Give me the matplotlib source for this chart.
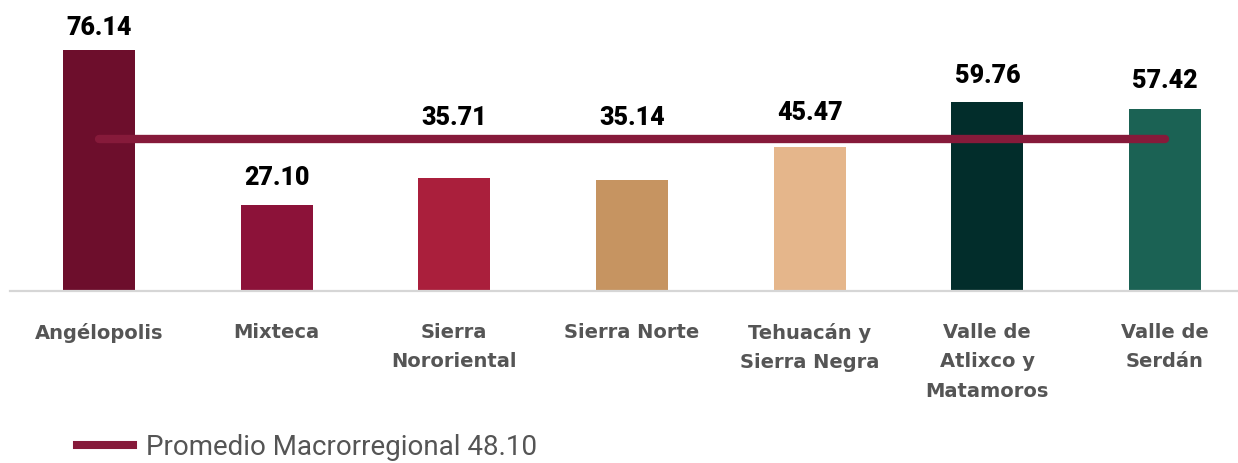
import matplotlib.pyplot as plt
from matplotlib.lines import Line2D

# Data
regiones = ["Angélopolis", "Mixteca", "Sierra\nNororiental", "Sierra Norte",
            "Tehuacán y\nSierra Negra", "Valle de\nAtlixco y\nMatamoros", "Valle de\nSerdán"]
valores = [76.14, 27.10, 35.71, 35.14, 45.47, 59.76, 57.42]
promedio = 48.10

# Style
colores = ["#6D0E2C", "#8C1239", "#AA1F3C", "#C69461", "#E5B68B", "#022D2B", "#1B6254"]
color_promedio = "#861A3A"
# label offset above each bar (points), as placed in the original
desfase_etiquetas = [10.8, 14.4, 38.2, 39.6, 19.4, 13.7, 15.1]

W, H = 1238, 463
paso = 177.7  # px per category
fig = plt.figure(figsize=(W / 100, H / 100), dpi=100)
ax = fig.add_axes([10 / W, (H - 291) / H, 7 * paso / W, 291 / H])

x = list(range(len(regiones)))
bars = ax.bar(x, valores, width=0.405, color=colores, zorder=2)

# Average line (round caps)
ax.plot([x[0], x[-1]], [promedio, promedio], color=color_promedio,
        linewidth=6, solid_capstyle="round", zorder=3)

# Value labels
for bar, v, dy in zip(bars, valores, desfase_etiquetas):
    ax.annotate(f"{v:.2f}", (bar.get_x() + bar.get_width() / 2, v),
                xytext=(0, dy), textcoords="offset points",
                ha="center", va="baseline", fontsize=18, fontweight="heavy",
                family=["Roboto", "DejaVu Sans"], color="#000000")

ax.set_xlim(-0.5, len(regiones) - 0.5)
ax.set_ylim(0, 291 / 3.165)

ax.set_xticks(x)
ax.set_xticklabels(regiones, fontsize=14, fontweight="bold", color="#555555",
                   family=["DejaVu Sans"], linespacing=1.7)
ax.tick_params(axis="x", length=0, pad=23)
ax.set_yticks([])

for side in ["top", "right", "left"]:
    ax.spines[side].set_visible(False)
ax.spines["bottom"].set_color("#D6D6D6")
ax.spines["bottom"].set_linewidth(1.6)

handle = Line2D([0], [0], color=color_promedio, linewidth=5.8)
leg = fig.legend([handle], [f"Promedio Macrorregional {promedio:.2f}"],
                 loc="lower left", bbox_to_anchor=(52 / W, -0.05), frameon=False,
                 handlelength=2.0, handletextpad=0.5,
                 prop={"family": ["Roboto", "DejaVu Sans"], "size": 20})
for t in leg.get_texts():
    t.set_color("#555555")

fig.savefig("out.png", dpi=100)
